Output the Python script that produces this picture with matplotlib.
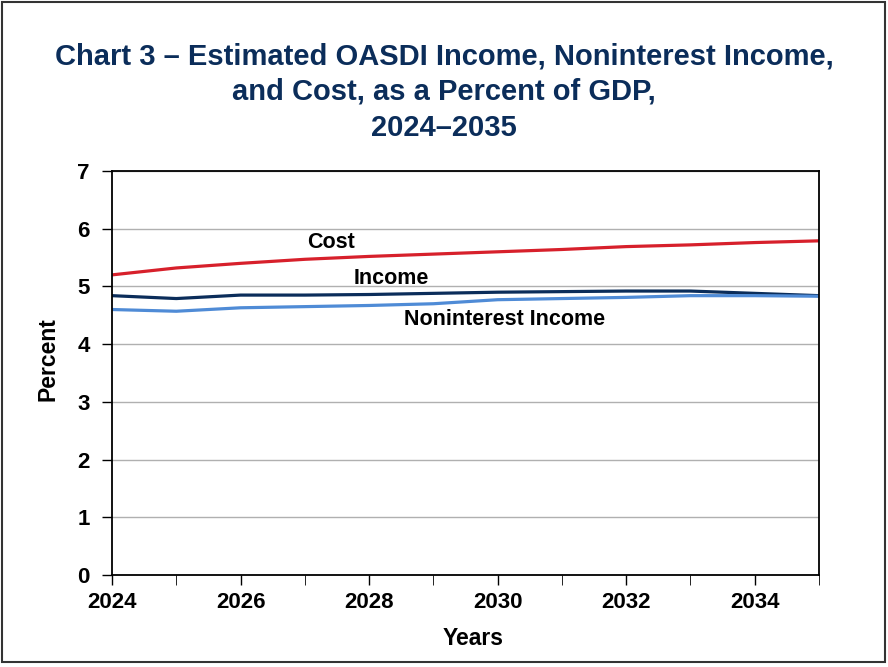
import matplotlib
matplotlib.use("Agg")
import matplotlib.pyplot as plt
from matplotlib.patches import Rectangle

years = [2024, 2025, 2026, 2027, 2028, 2029, 2030, 2031, 2032, 2033, 2034, 2035]
cost = [5.20, 5.32, 5.40, 5.47, 5.52, 5.56, 5.60, 5.64, 5.69, 5.72, 5.76, 5.79]
income = [4.84, 4.79, 4.85, 4.85, 4.86, 4.88, 4.90, 4.91, 4.92, 4.92, 4.88, 4.84]
nonint = [4.60, 4.57, 4.63, 4.65, 4.67, 4.70, 4.77, 4.79, 4.81, 4.84, 4.84, 4.83]
xticks = [2024, 2026, 2028, 2030, 2032, 2034]
yticks = [0, 1, 2, 3, 4, 5, 6, 7]

plt.rcParams['font.family'] = ['Liberation Sans', 'DejaVu Sans']
plt.rcParams['font.weight'] = 'bold'

fig = plt.figure(figsize=(8.88, 6.67), dpi=100)
ax = fig.add_axes([112/888, 1-575/667, (819-112)/888, (575-171)/667])

ax.plot(years, cost, color="#d7202b", linewidth=2.3)
ax.plot(years, income, color="#0b2d5a", linewidth=2.3)
ax.plot(years, nonint, color="#4f8bd6", linewidth=2.3)

ax.text(2027.4, 5.76, "Cost", fontsize=15.5, fontweight="bold", ha="center", va="center")
ax.text(2028.35, 5.13, "Income", fontsize=15.5, fontweight="bold", ha="center", va="center")
ax.text(2030.1, 4.43, "Noninterest Income", fontsize=15.5, fontweight="bold", ha="center", va="center")

ax.set_xlim(2024, 2035)
ax.set_ylim(0, 7)
ax.set_xticks(years, minor=True)
ax.set_xticks(xticks)
ax.set_yticks(yticks)
ax.tick_params(axis="both", labelsize=16, width=1, color="black")
ax.tick_params(axis="x", which="both", direction="out", length=7, pad=5)
ax.tick_params(axis="y", direction="out", length=7, pad=9)
for lab in ax.get_xticklabels() + ax.get_yticklabels():
    lab.set_fontweight("bold")
ax.grid(axis="y", color="#b0b0b0", linewidth=1)
ax.set_axisbelow(True)
for s in ax.spines.values():
    s.set_color("black")
    s.set_linewidth(1.3)

ax.set_xlabel("Years", fontsize=16.5, fontweight="bold")
ax.set_ylabel("Percent", fontsize=16.5, fontweight="bold")
ax.xaxis.set_label_coords(0.511, -0.128)
ax.yaxis.set_label_coords(-0.074, 0.535)

fig.text(0.5, 1-92/667, "Chart 3 \u2013 Estimated OASDI Income, Noninterest Income,\nand Cost, as a Percent of GDP,\n2024\u20132035",
         ha="center", va="center", fontsize=21, fontweight="bold", color="#0b2d5a", linespacing=1.35)

fig.patches.append(Rectangle((2/888, 5/667), 883/888, 660/667, transform=fig.transFigure,
                             fill=False, edgecolor="#333333", linewidth=1.5))

fig.savefig("out.png", dpi=100)
